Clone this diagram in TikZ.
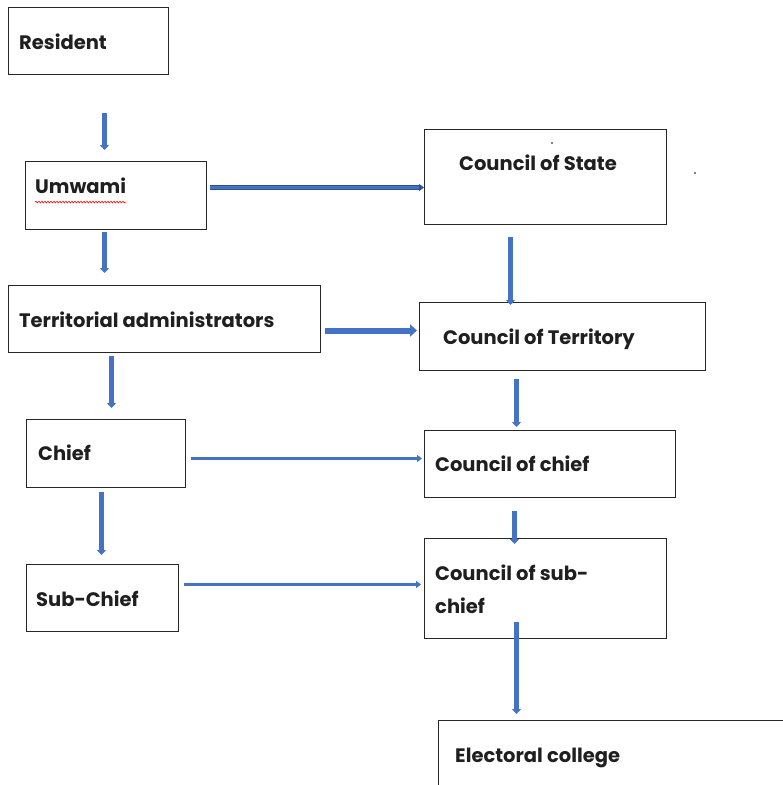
\documentclass[tikz,border=0pt]{standalone}
\usepackage{fontspec}
\setmainfont{Poppins}
\usetikzlibrary{arrows.meta,decorations.pathmorphing}
\definecolor{arrblue}{RGB}{68,114,196}
\definecolor{arrdark}{RGB}{47,82,143}
\definecolor{boxline}{RGB}{38,38,38}
\tikzset{
  box/.style={draw=boxline, line width=1pt, rectangle, anchor=north west, inner sep=0pt},
  txt/.style={anchor=mid west, inner sep=0pt, font=\fontsize{19.5}{33}\selectfont\bfseries, text=black!88},
  arr/.style={draw=arrblue, line width=4.5pt, -{Triangle[width=9pt,length=5pt]}},
  thickarr/.style={draw=arrblue, line width=6pt, -{Triangle[width=12pt,length=7pt]}},
  thinarr/.style={draw=arrblue, line width=3pt, -{Triangle[width=7pt,length=5pt]}},
}
\begin{document}
\begin{tikzpicture}[x=1pt,y=-1pt]
\useasboundingbox (0,0) rectangle (783,785);
\clip (0,0) rectangle (783,785);
% left column
\node[box, minimum width=160pt, minimum height=67pt] (res) at (8,7) {};
\node[box, minimum width=181pt, minimum height=68pt] (umw) at (25,161) {};
\node[box, minimum width=312pt, minimum height=67pt] (ter) at (8,285) {};
\node[box, minimum width=159pt, minimum height=68pt] (chf) at (26,419) {};
\node[box, minimum width=152pt, minimum height=67pt] (sub) at (26,564) {};
% right column
\node[box, minimum width=242pt, minimum height=95pt] (cos) at (424,129) {};
\node[box, minimum width=286pt, minimum height=68pt] (cot) at (419,302) {};
\node[box, minimum width=251pt, minimum height=67pt] (coc) at (424,430) {};
\node[box, minimum width=242pt, minimum height=100pt] (csc) at (424,538) {};
\node[box, minimum width=392pt, minimum height=110pt] (ele) at (438,720) {};
% texts
\node[txt] (resT) at (19,47) {Resident};
\node[txt] (umwT) at (35,191) {Umwami};
\node[txt] (terT) at (19,325) {Territorial administrators};
\node[txt] (chfT) at (38,458) {Chief};
\node[txt] (subT) at (36,604) {Sub-Chief};
\node[txt] (cosT) at (459,168) {Council of State};
\node[txt] (cotT) at (443,342) {Council of Territory};
\node[txt] (cocT) at (435,469) {Council of chief};
\node[txt, anchor=north west, align=left] (cscT) at (435,565) {Council of sub-\\chief};
\node[txt] (eleT) at (455,760) {Electoral college};
% spell-check mark and stray dots
\draw[red, line width=0.6pt, decorate, decoration={snake, amplitude=0.8pt, segment length=3pt}]
  ([yshift=-8pt]umwT.south west) -- ([yshift=-8pt]umwT.south east);
\fill (552,143) circle (0.9pt);
\fill (695,173) circle (0.9pt);
% vertical arrows
\draw[arr, shorten <=38pt, shorten >=11pt] ([xshift=16pt]res.south) -- ([xshift=-11.5pt]umw.north);
\draw[arr, shorten <=2pt, shorten >=12pt] ([xshift=-11.5pt]umw.south) -- ([xshift=-60pt]ter.north);
\draw[arr, shorten <=3pt, shorten >=11pt] ([xshift=-53pt]ter.south) -- ([xshift=5.5pt]chf.north);
\draw[arr, shorten <=4pt, shorten >=9pt] ([xshift=-4.5pt]chf.south) -- ([xshift=-1pt]sub.north);
\draw[arr, shorten <=12pt, shorten >=-3pt] ([xshift=-35pt]cos.south) -- ([xshift=-52pt]cot.north);
\draw[arr, shorten <=8pt, shorten >=3pt] ([xshift=-46pt]cot.south) -- ([xshift=-33.5pt]coc.north);
\draw[arr, shorten <=13pt, shorten >=-6pt] ([xshift=-35.5pt]coc.south) -- ([xshift=-31pt]csc.north);
\draw[arr, line width=5pt, shorten <=-17pt, shorten >=6pt] ([xshift=-29pt]csc.south) -- ([xshift=-118pt]ele.north);
% horizontal arrows
\draw[draw=arrdark, line width=1pt, double=arrblue, double distance=2.5pt, -{Triangle[width=7pt,length=5pt]}, shorten <=3pt]
  ([yshift=8pt]umw.east) -- ([yshift=-10.5pt]cos.west);
\draw[thickarr, shorten <=4pt, shorten >=2pt] ([yshift=-11.5pt]ter.east) -- ([yshift=6pt]cot.west);
\draw[thinarr, shorten <=5pt, shorten >=2pt] ([yshift=-5pt]chf.east) -- ([yshift=5.5pt]coc.west);
\draw[thinarr, shorten <=5pt, shorten >=3pt] ([yshift=13.5pt]sub.east) -- ([yshift=4pt]csc.west);
\end{tikzpicture}
\end{document}
